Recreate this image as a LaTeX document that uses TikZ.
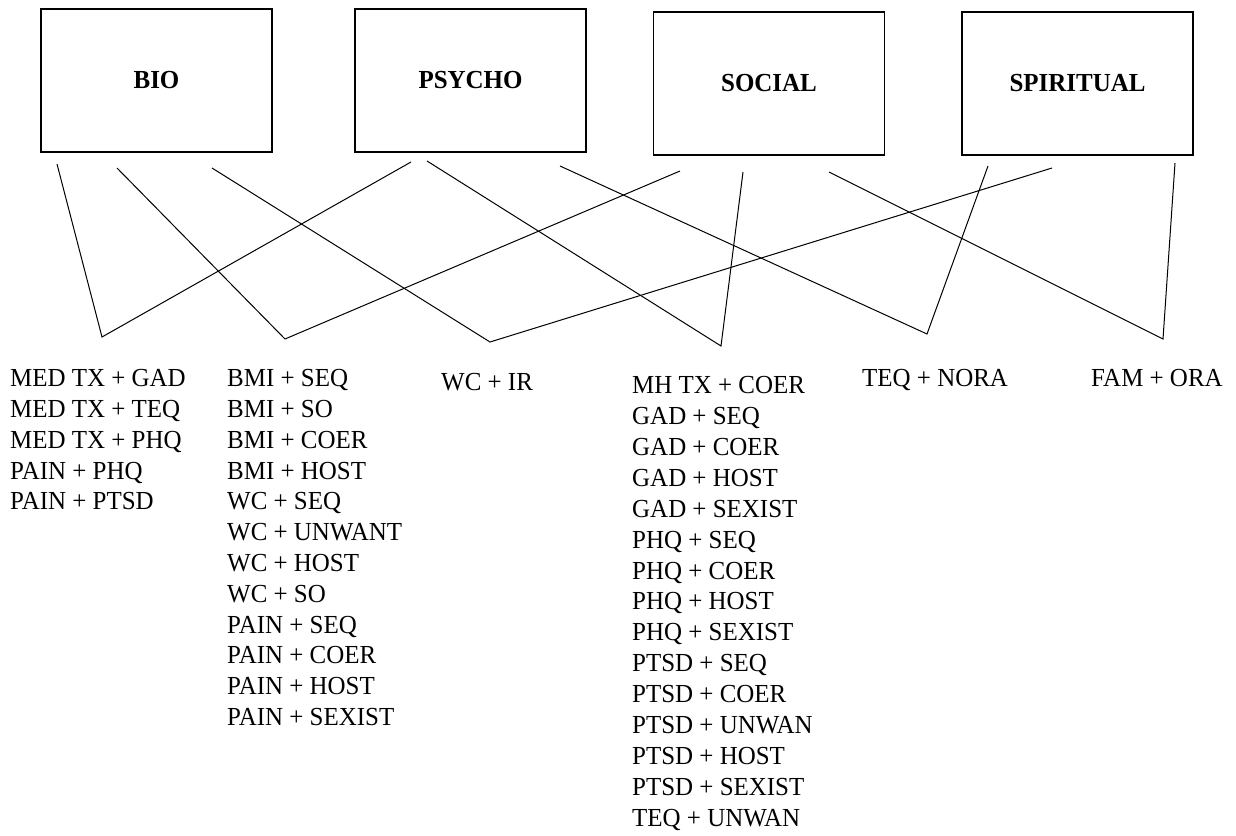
\documentclass[tikz,border=0pt]{standalone}
\usepackage{fontspec}
\setmainfont{Liberation Serif}[FakeStretch=0.96]
\begin{document}
\begin{tikzpicture}[x=1pt,y=-1pt,
  catbox/.style={draw=black, line width=1.1pt, minimum width=231pt, minimum height=143pt, inner sep=0pt,
    font=\fontsize{26}{30}\selectfont\bfseries},
  lbl/.style={inner sep=0pt, anchor=base west, font=\fontsize{26}{30}\selectfont},
  link/.style={draw=black, line width=1pt, line join=miter}]
\useasboundingbox (0,0) rectangle (1236,835);
% category boxes
\node[catbox] (bio) at (156.5,80.5) {BIO};
\node[catbox] (psy) at (470.5,80.5) {PSYCHO};
\node[catbox] (soc) at (769,83.5) {SOCIAL};
\node[catbox] (spi) at (1077.5,83.5) {SPIRITUAL};
% connector ends below boxes
\coordinate (bio1) at (57,164);
\coordinate (bio2) at (117,168);
\coordinate (bio3) at (212,168);
\coordinate (psy1) at (411,162);
\coordinate (psy2) at (427,161);
\coordinate (psy3) at (560,166);
\coordinate (soc1) at (680,171);
\coordinate (soc2) at (743,172);
\coordinate (soc3) at (829,172);
\coordinate (spi1) at (988,166);
\coordinate (spi2) at (1052,168);
\coordinate (spi3) at (1175,163);
% vertices
\coordinate (v1) at (102,337);
\coordinate (v2) at (285,339);
\coordinate (v3) at (490,342);
\coordinate (v4) at (721,346);
\coordinate (v5) at (927,334);
\coordinate (v6) at (1163,339);
% connectors
\draw[link] (bio1) -- (v1) -- (psy1);
\draw[link] (bio2) -- (v2) -- (soc1);
\draw[link] (bio3) -- (v3) -- (spi2);
\draw[link] (psy2) -- (v4) -- (soc2);
\draw[link] (psy3) -- (v5) -- (spi1);
\draw[link] (soc3) -- (v6) -- (spi3);
% label columns
\foreach \t [count=\i from 0] in {MED TX + GAD, MED TX + TEQ, MED TX + PHQ, PAIN + PHQ, PAIN + PTSD}
  \node[lbl] (a\i) at (10,386.7+\i*30.8) {\t};
\foreach \t [count=\i from 0] in {BMI + SEQ, BMI + SO, BMI + COER, BMI + HOST, WC + SEQ, WC + UNWANT, WC + HOST, WC + SO, PAIN + SEQ, PAIN + COER, PAIN + HOST, PAIN + SEXIST}
  \node[lbl] (b\i) at (227,386.7+\i*30.8) {\t};
\node[lbl] (c0) at (441,390) {WC + IR};
\foreach \t [count=\i from 0] in {MH TX + COER, GAD + SEQ, GAD + COER, GAD + HOST, GAD + SEXIST, PHQ + SEQ, PHQ + COER, PHQ + HOST, PHQ + SEXIST, PTSD + SEQ, PTSD + COER, PTSD + UNWAN, PTSD + HOST, PTSD + SEXIST, TEQ + UNWAN}
  \node[lbl] (d\i) at (632,393.3+\i*30.95) {\t};
\node[lbl] (e0) at (862,386.7) {TEQ + NORA};
\node[lbl] (f0) at (1091,386.7) {FAM + ORA};
\end{tikzpicture}
\end{document}
